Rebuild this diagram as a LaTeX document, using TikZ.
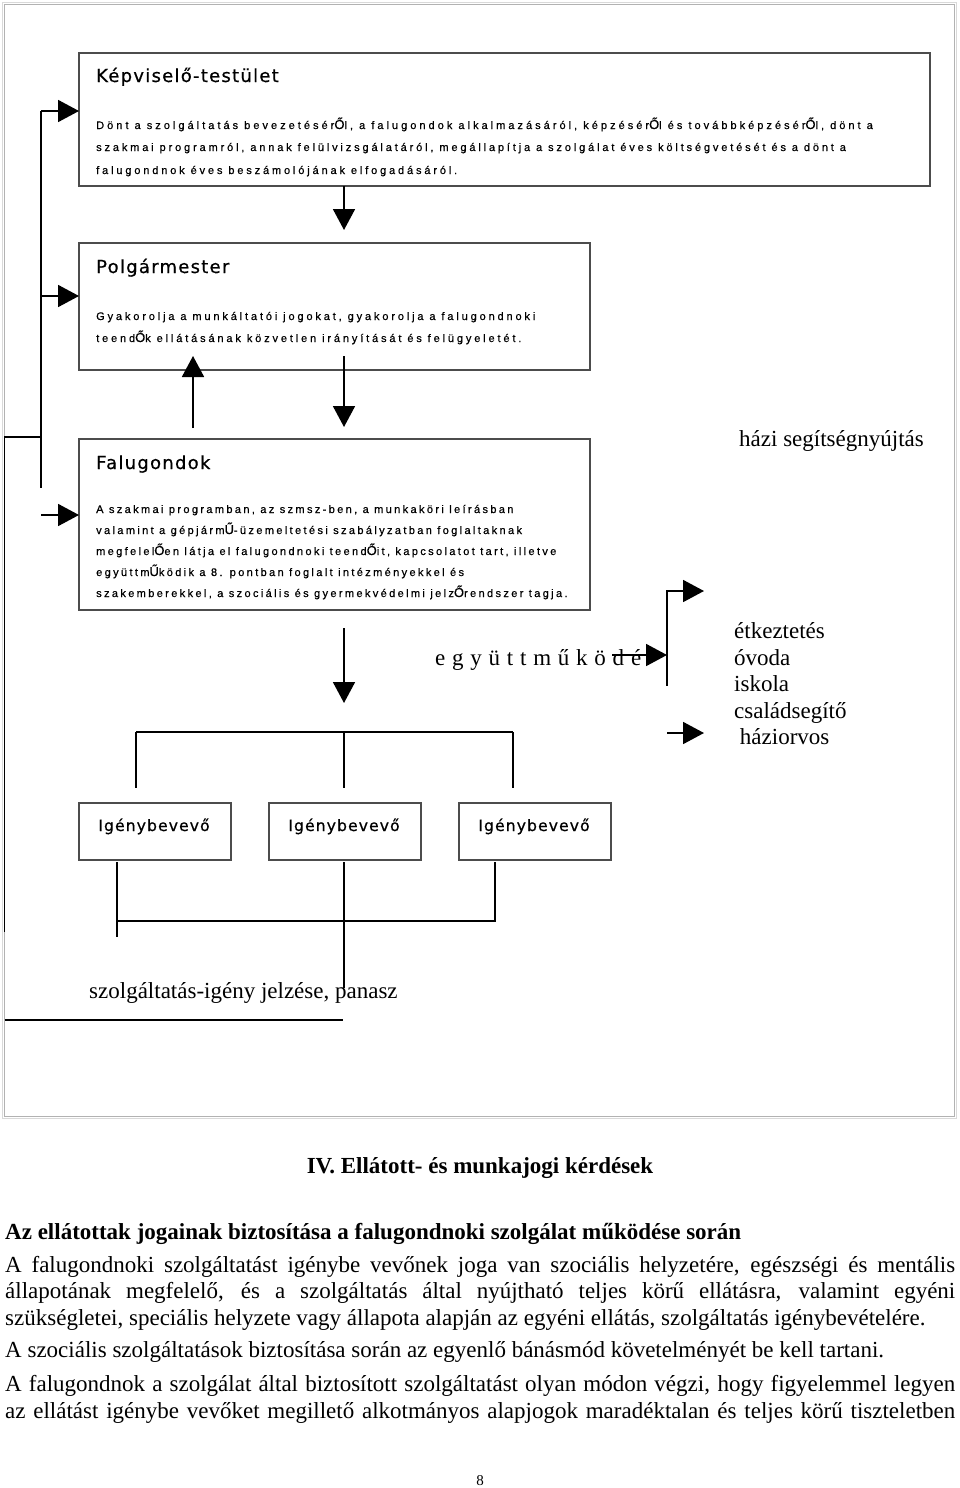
\documentclass[tikz,border=0pt]{standalone}
\usepackage{fontspec}
\setmainfont{Liberation Serif}
\newfontfamily\diatitle[LetterSpace=7,FakeBold=0.6]{DejaVu Sans}
\newfontfamily\diabody[LetterSpace=26,FakeBold=0.5]{Liberation Sans}
\newfontfamily\diabodyw[LetterSpace=27.5,FakeBold=0.5]{Liberation Sans}
\newfontfamily\diabodyn[LetterSpace=21.5,FakeBold=0.5]{Liberation Sans}
\newfontfamily\diaplain[FakeBold=0.5]{Liberation Sans}
\usetikzlibrary{arrows.meta}
\newcommand{\BO}{{\diaplain\fontsize{13}{12}\selectfont Ő}}
\newcommand{\BU}{{\diaplain\fontsize{13}{12}\selectfont Ű}}
\tikzset{
 boxx/.style={draw=black!70, line width=1.2pt, inner sep=0pt, outer sep=0pt, anchor=north west},
 ttl/.style={inner sep=0pt, anchor=base west, font=\diatitle\fontsize{18}{20}\selectfont},
 ibt/.style={inner sep=0pt, anchor=base, font=\diatitle\fontsize{15.6}{18}\selectfont},
 bod/.style={inner sep=0pt, anchor=base west, font=\diabody\fontsize{11}{12}\selectfont},
 bodw/.style={bod, font=\diabodyw\fontsize{11}{12}\selectfont},
 bodn/.style={bod, font=\diabodyn\fontsize{11}{12}\selectfont},
 conn/.style={line width=1.8pt, black},
 arr/.style={conn, -{Triangle[length=21pt,width=22pt]}},
 serif/.style={inner sep=0pt, anchor=base west, font=\fontsize{23}{27}\selectfont},
 serifb/.style={inner sep=0pt, anchor=base west, font=\bfseries\fontsize{23}{27}\selectfont},
}
\begin{document}
\begin{tikzpicture}[x=1pt,y=-1pt]
\useasboundingbox (0,0) rectangle (960,1488);
\fill[white] (0,0) rectangle (960,1488);
% outer frame
\draw[gray!30, line width=1.2pt] (2.5,2.5) rectangle (956.5,1118.5);
\draw[gray!60, line width=1pt] (4.2,4.2) rectangle (954.5,1116.5);

% boxes
\node[boxx, minimum width=851pt, minimum height=133pt] (kt) at (79,53) {};
\node[boxx, minimum width=511pt, minimum height=127pt] (pm) at (79,243) {};
\node[boxx, minimum width=511pt, minimum height=171pt] (fg) at (79,439) {};
\node[boxx, minimum width=152pt, minimum height=57pt] (ib1) at (79,803) {};
\node[boxx, minimum width=152pt, minimum height=57pt] (ib2) at (269,803) {};
\node[boxx, minimum width=152pt, minimum height=57pt] (ib3) at (459,803) {};

% Képviselő-testület
\node[ttl] (kttitle) at (96,82) {Képviselő-testület};
\node[bodw] (kt1) at (96,129) {Dönt a szolgáltatás bevezetésér\BO l, a falugondok alkalmazásáról, képzésér\BO l és továbbképzésér\BO l, dönt a};
\node[bod] (kt2) at (96,151) {szakmai programról, annak felülvizsgálatáról, megállapítja a szolgálat éves költségvetését és a dönt a};
\node[bod] (kt3) at (96,174) {falugondnok éves beszámolójának elfogadásáról.};

% Polgármester
\node[ttl] (pmtitle) at (96,273) {Polgármester};
\node[bod] (pm1) at (96,320) {Gyakorolja a munkáltatói jogokat, gyakorolja a falugondnoki};
\node[bod] (pm2) at (96,342) {teend\BO k ellátásának közvetlen irányítását és felügyeletét.};

% Falugondok
\node[ttl] (fgtitle) at (96,469) {Falugondok};
\node[bodn] (fg1) at (96,513) {A szakmai programban, az szmsz-ben, a munkaköri leírásban};
\node[bodn] (fg2) at (96,534) {valamint a gépjárm\BU -üzemeltetési szabályzatban foglaltaknak};
\node[bodn] (fg3) at (96,555) {megfelel\BO en látja el falugondnoki teend\BO it, kapcsolatot tart, illetve};
\node[bodn] (fg4) at (96,576) {együttm\BU ködik a 8. pontban foglalt intézményekkel és};
\node[bodn] (fg5) at (96,597) {szakemberekkel, a szociális és gyermekvédelmi jelz\BO rendszer tagja.};

% Igénybevevő
\node[ibt] (ib1t) at (154,831) {Igénybevevő};
\node[ibt] (ib2t) at (344,831) {Igénybevevő};
\node[ibt] (ib3t) at (534,831) {Igénybevevő};

% right side texts
\node[serif] (hazi) at (739,446) {házi segítségnyújtás};
\node[serif] (egy) at (435,665) {\makebox[206pt][s]{e g y ü t t m ű k ö d é}};
\node[serif] (l1) at (734,638) {étkeztetés};
\node[serif] (l2) at (734,665) {óvoda};
\node[serif] (l3) at (734,691) {iskola};
\node[serif] (l4) at (734,718) {családsegítő};
\node[serif] (l5) at (734,744) {\ háziorvos};
\node[serif] (panasz) at (89,998) {szolgáltatás-igény jelzése, panasz};

% left connectors
\coordinate (lt) at (41,111);
\coordinate (lpm) at (41,296);
\coordinate (lb) at (41,488);
\coordinate (lfg) at (41,515);
\coordinate (ojoin) at (4.5,437);
\coordinate (ojoinb) at (41,437);
\coordinate (oend) at (4.5,932);
\draw[conn] (lt) -- (lb);
\draw[arr] (lt) -- (kt.west |- lt);
\draw[arr] (lpm) -- (pm.west |- lpm);
\draw[arr] (lfg) -- (fg.west |- lfg);
\draw[conn] (ojoinb) -- (ojoin) -- (oend);

% middle connectors
\coordinate (m1s) at (344,186);
\coordinate (m1e) at (344,230);
\coordinate (m2s) at (344,356);
\coordinate (m2e) at (344,427);
\coordinate (u1s) at (193,428);
\coordinate (u1e) at (193,356);
\coordinate (m3s) at (344,628);
\coordinate (m3e) at (344,703);
\draw[arr] (m1s) -- (m1e);
\draw[arr] (m2s) -- (m2e);
\draw[arr] (u1s) -- (u1e);
\draw[arr] (m3s) -- (m3e);

% tree above Igénybevevő
\coordinate (t1) at (136,732);
\coordinate (t2) at (344,732);
\coordinate (t3) at (513,732);
\draw[conn] (t1) -- (t3);
\draw[conn] (t1) -- (136,788);
\draw[conn] (t2) -- (344,788);
\draw[conn] (t3) -- (513,788);

% lines below Igénybevevő
\coordinate (b1) at (117,862);
\coordinate (b2) at (344,862);
\coordinate (b3) at (495,862);
\coordinate (bj1) at (117,921);
\coordinate (bj3) at (495,921);
\draw[conn] (b1) -- (117,937);
\draw[conn] (b2) -- (344,988);
\draw[conn] (b3) -- (bj3) -- (bj1);
\coordinate (bl) at (4.5,1020);
\coordinate (br) at (343,1020);
\draw[conn, line width=2.4pt] (bl) -- (br);

% együttműködés arrows
\coordinate (es) at (612,655);
\coordinate (ee) at (667,655);
\coordinate (vt) at (667,590);
\coordinate (vb) at (667,686);
\coordinate (a1) at (667,591);
\coordinate (a1e) at (704,591);
\coordinate (a2) at (667,733);
\coordinate (a2e) at (704,733);
\draw[arr] (es) -- (ee);
\draw[conn] (vt) -- (vb);
\draw[arr] (a1) -- (a1e);
\draw[arr] (a2) -- (a2e);

% lower page text
\node[serifb, anchor=base] (iv) at (480,1173) {IV. Ellátott- és munkajogi kérdések};
\node[serifb] (h2) at (5,1239) {Az ellátottak jogainak biztosítása a falugondnoki szolgálat működése során};
\node[serif] (p1a) at (5,1272) {\makebox[950pt][s]{A falugondnoki szolgáltatást igénybe vevőnek joga van szociális helyzetére, egészségi és mentális}};
\node[serif] (p1b) at (5,1298) {\makebox[950pt][s]{állapotának megfelelő, és a szolgáltatás által nyújtható teljes körű ellátásra, valamint egyéni}};
\node[serif] (p1c) at (5,1325) {szükségletei, speciális helyzete vagy állapota alapján az egyéni ellátás, szolgáltatás igénybevételére.};
\node[serif] (p2) at (5,1357) {A szociális szolgáltatások biztosítása során az egyenlő bánásmód követelményét be kell tartani.};
\node[serif] (p3a) at (5,1391) {\makebox[950pt][s]{A falugondnok a szolgálat által biztosított szolgáltatást olyan módon végzi, hogy figyelemmel legyen}};
\node[serif] (p3b) at (5,1418) {\makebox[950pt][s]{az ellátást igénybe vevőket megillető alkotmányos alapjogok maradéktalan és teljes körű tiszteletben}};
\node[serif, anchor=base, font=\fontsize{15}{15}\selectfont] (pg) at (480,1485) {8};
\end{tikzpicture}
\end{document}
